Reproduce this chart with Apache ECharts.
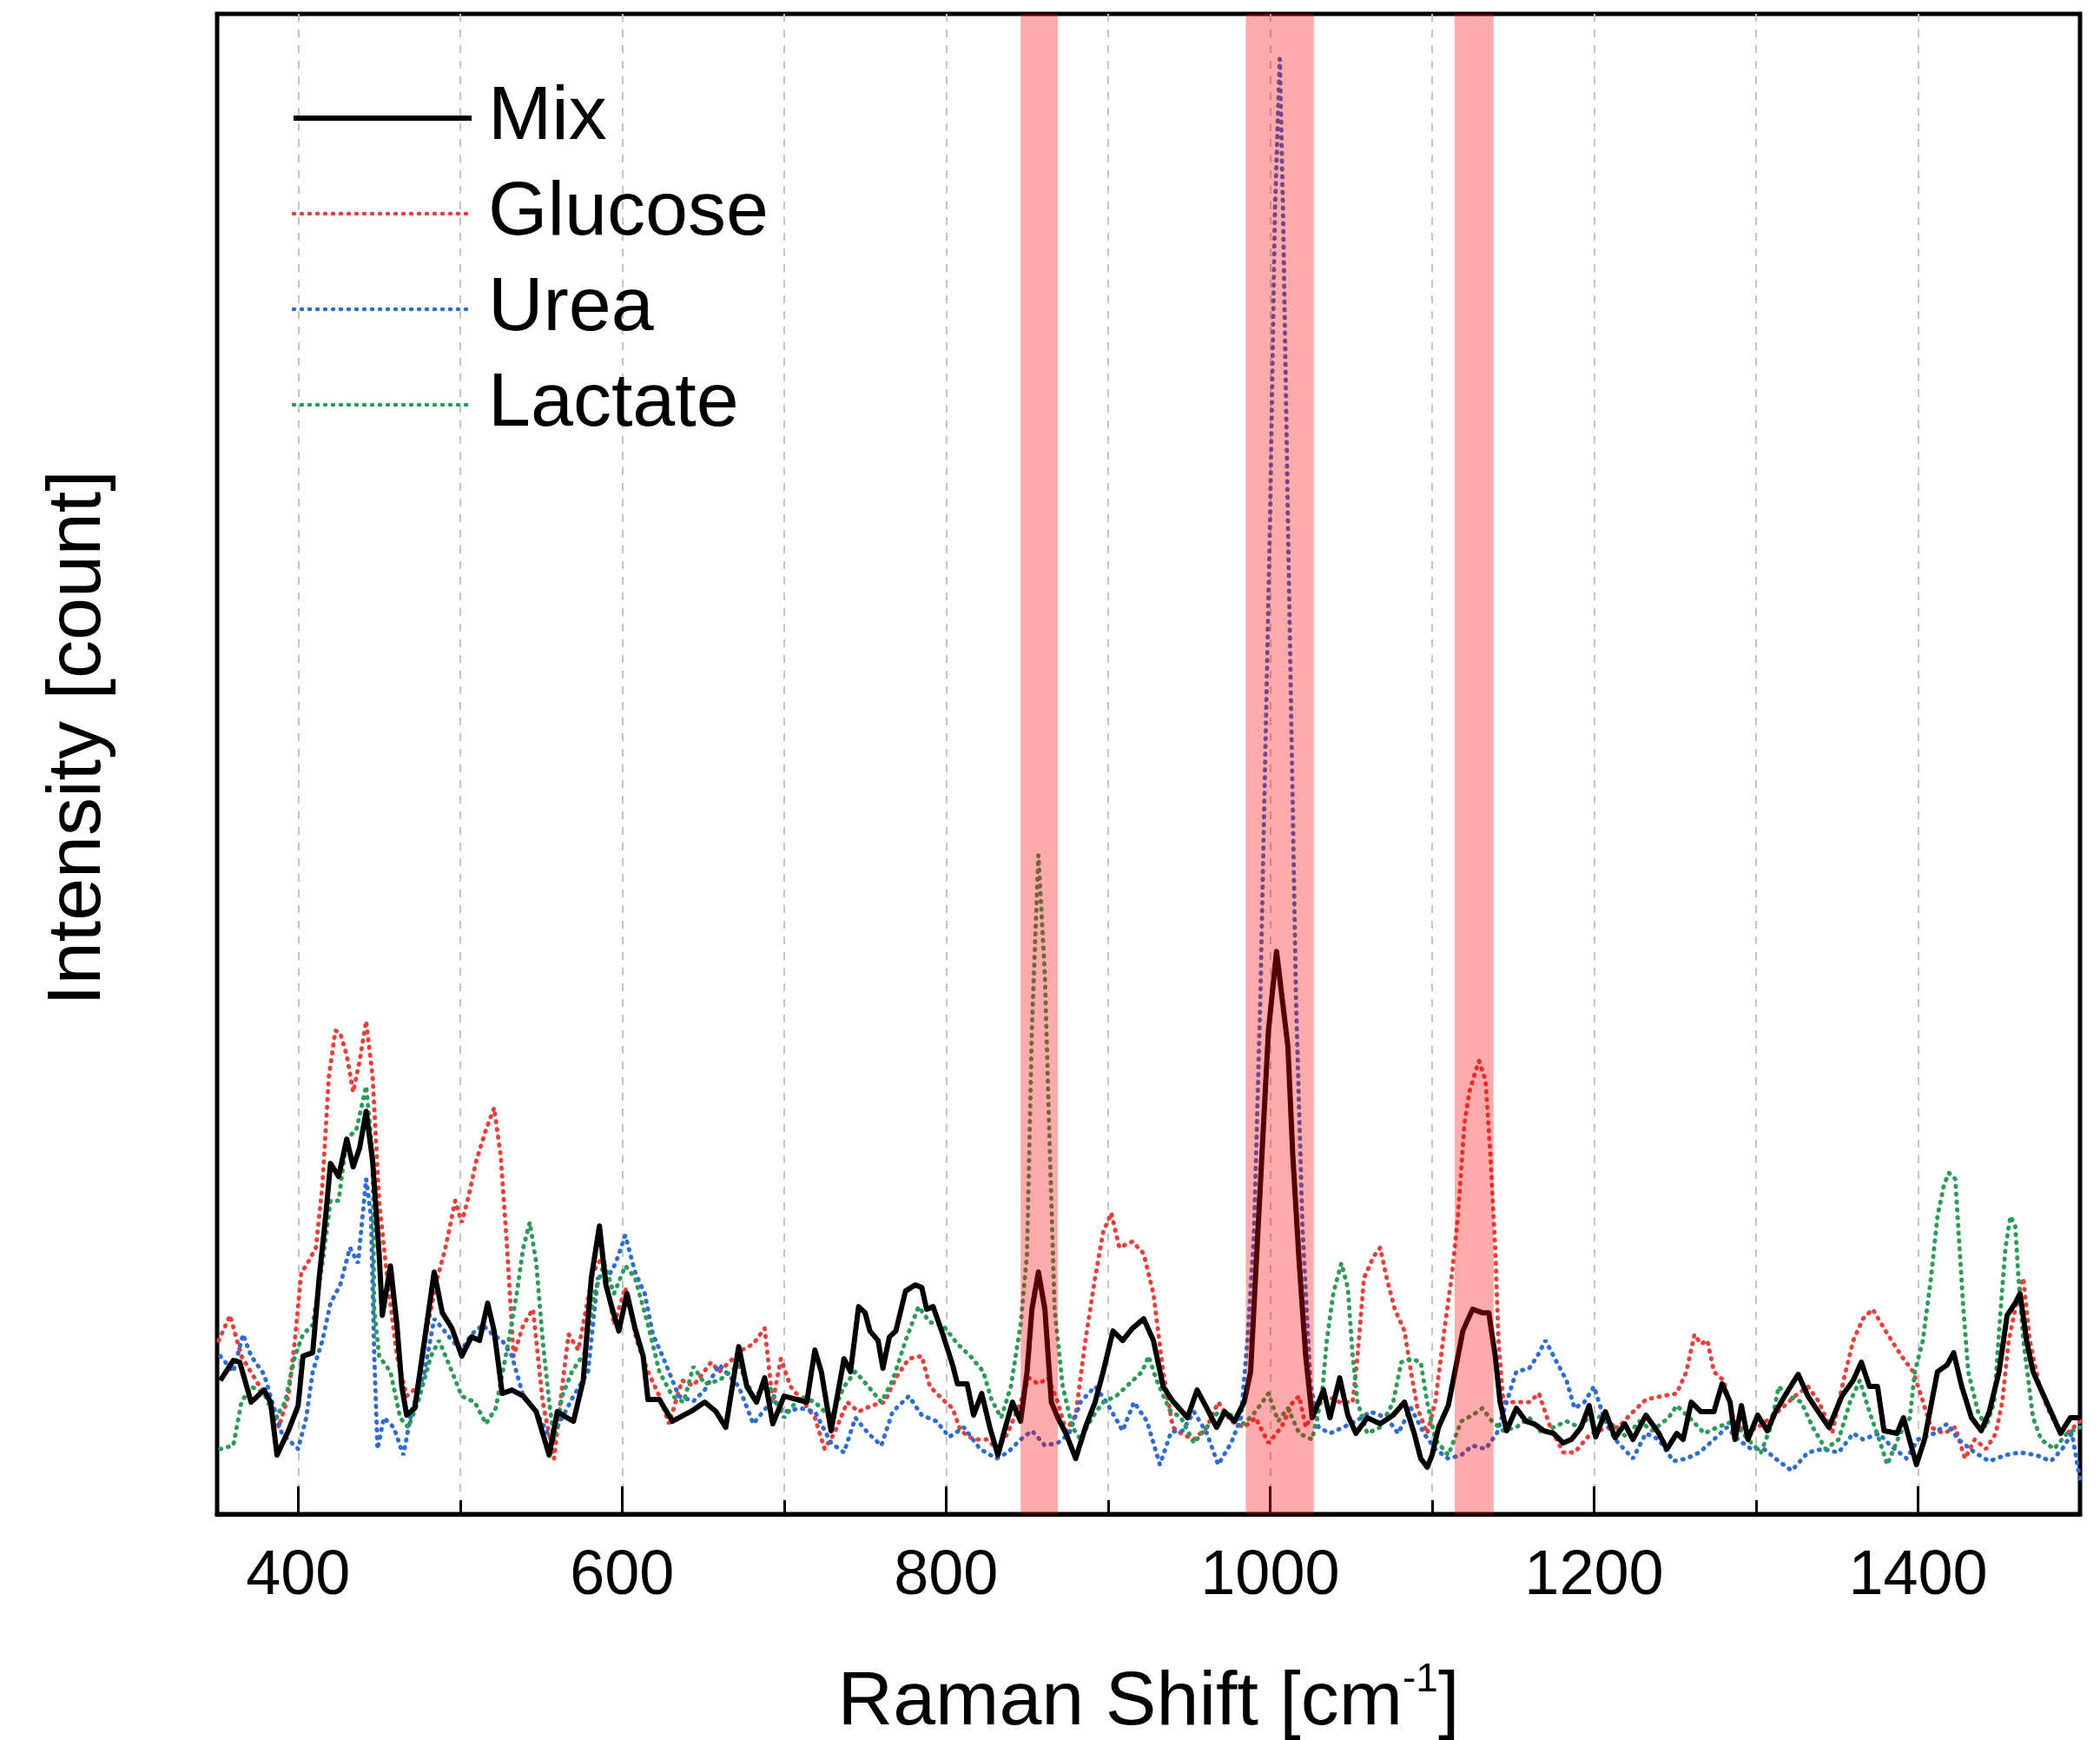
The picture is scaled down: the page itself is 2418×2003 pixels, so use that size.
<!DOCTYPE html>
<html>
<head>
<meta charset="utf-8">
<script src="https://cdn.jsdelivr.net/npm/echarts@6/dist/echarts.min.js"></script>
<style>
html,body{margin:0;padding:0;background:#fff;}
#chart{width:2418px;height:2003px;}
</style>
</head>
<body>
<div id="chart"></div>
<script>
// Raman shift [cm-1] vs intensity (arbitrary counts)
const mix = [[352,154],[360,177],[364,175],[371,129],[379,143],[383,129],[387,68],[394,96],[400,125],[403,182],[409,186],[413,272],[417,343],[420,404],[425,389],[430,432],[434,400],[438,422],[442,464],[446,407],[450,300],[452,229],[457,286],[461,218],[464,147],[467,114],[472,122],[478,200],[484,279],[489,232],[495,214],[501,182],[507,204],[512,200],[517,243],[521,211],[526,139],[532,143],[539,136],[547,118],[555,68],[560,118],[566,111],[570,107],[576,154],[581,272],[586,332],[590,264],[594,236],[598,211],[603,254],[608,214],[613,182],[616,132],[623,132],[631,107],[638,114],[644,120],[651,129],[658,118],[664,100],[672,193],[677,147],[683,129],[688,157],[693,104],[700,136],[708,132],[714,129],[719,189],[723,164],[729,96],[737,179],[741,164],[746,239],[750,232],[753,211],[758,200],[761,168],[765,204],[769,211],[775,257],[781,264],[785,261],[788,236],[792,239],[798,207],[804,172],[807,150],[813,150],[817,114],[822,139],[827,100],[832,68],[836,96],[841,129],[846,107],[850,164],[853,236],[857,279],[861,236],[865,129],[869,111],[874,93],[880,64],[886,100],[892,129],[897,164],[903,211],[909,200],[915,214],[922,225],[928,200],[934,147],[940,130],[949,111],[955,143],[961,122],[967,100],[972,118],[978,107],[984,129],[988,164],[991,272],[995,414],[999,557],[1004,648],[1011,539],[1014,414],[1018,289],[1022,182],[1026,111],[1030,129],[1033,143],[1037,111],[1043,157],[1048,114],[1053,93],[1060,111],[1068,104],[1076,114],[1083,129],[1089,93],[1093,64],[1097,54],[1100,68],[1104,100],[1110,125],[1116,182],[1119,211],[1125,236],[1131,232],[1135,232],[1139,182],[1142,129],[1146,96],[1152,122],[1158,107],[1163,104],[1169,96],[1175,93],[1181,82],[1186,86],[1192,100],[1197,125],[1201,89],[1207,118],[1213,88],[1219,104],[1224,86],[1232,114],[1240,93],[1245,75],[1251,93],[1255,86],[1260,129],[1266,118],[1274,118],[1279,150],[1284,129],[1287,86],[1291,125],[1295,86],[1301,114],[1307,96],[1312,118],[1320,143],[1326,161],[1332,136],[1337,122],[1345,100],[1353,136],[1360,154],[1365,175],[1370,147],[1375,147],[1379,96],[1387,93],[1391,111],[1399,57],[1404,86],[1412,164],[1418,172],[1422,186],[1427,147],[1433,111],[1439,96],[1444,118],[1450,164],[1455,229],[1460,243],[1463,254],[1467,200],[1471,164],[1476,143],[1482,118],[1488,93],[1494,111],[1500,111]];

const glucose = [[351,200],[358,229],[365,182],[373,157],[380,136],[388,100],[394,136],[398,200],[402,279],[405,286],[411,307],[415,379],[419,504],[423,557],[426,554],[430,529],[434,486],[438,522],[442,568],[446,504],[450,361],[455,272],[461,182],[467,136],[474,147],[480,218],[486,272],[491,307],[497,361],[501,336],[505,364],[510,407],[516,443],[521,468],[525,414],[529,307],[533,182],[539,218],[545,236],[551,129],[558,64],[563,147],[567,207],[573,189],[582,279],[588,297],[595,218],[602,261],[609,200],[616,164],[623,136],[629,104],[637,154],[644,148],[655,175],[660,164],[674,189],[681,196],[688,214],[693,129],[698,179],[704,147],[712,129],[719,111],[725,75],[731,93],[739,129],[746,118],[754,125],[762,129],[769,157],[777,179],[785,182],[790,147],[798,132],[804,122],[809,96],[817,86],[825,86],[832,75],[838,93],[846,129],[851,157],[857,150],[863,157],[869,129],[874,96],[880,114],[886,200],[892,272],[897,325],[902,347],[907,307],[915,314],[922,300],[928,254],[934,164],[940,100],[945,93],[953,86],[961,100],[968,129],[976,107],[984,100],[991,111],[999,82],[1007,100],[1014,129],[1018,136],[1022,100],[1028,122],[1035,136],[1043,129],[1051,129],[1054,182],[1058,272],[1064,297],[1068,307],[1072,272],[1077,236],[1083,211],[1087,164],[1091,122],[1097,93],[1102,129],[1108,218],[1112,272],[1116,343],[1120,450],[1123,486],[1127,511],[1129,522],[1133,500],[1136,414],[1139,307],[1141,200],[1144,129],[1152,129],[1160,129],[1166,139],[1173,100],[1181,71],[1188,71],[1198,93],[1209,100],[1215,100],[1222,114],[1232,132],[1242,136],[1251,139],[1257,164],[1262,207],[1266,196],[1270,200],[1274,164],[1280,154],[1286,111],[1293,93],[1301,100],[1309,111],[1316,122],[1324,136],[1332,147],[1339,129],[1347,93],[1354,154],[1360,200],[1366,225],[1372,236],[1379,214],[1385,196],[1391,179],[1397,164],[1402,136],[1408,100],[1416,93],[1423,100],[1429,64],[1435,86],[1442,75],[1448,93],[1452,129],[1456,200],[1462,254],[1465,272],[1469,200],[1475,147],[1480,122],[1486,100],[1492,93],[1500,107]];

const urea = [[352,182],[360,164],[366,207],[371,182],[379,161],[384,129],[390,93],[400,75],[405,111],[409,164],[415,200],[420,243],[426,264],[432,307],[437,289],[442,386],[445,343],[447,182],[449,75],[453,111],[459,100],[465,68],[470,118],[478,164],[484,225],[489,214],[495,200],[501,189],[507,207],[514,218],[520,207],[526,200],[532,182],[539,136],[547,118],[556,86],[563,111],[570,136],[579,164],[585,272],[591,272],[596,289],[602,321],[608,279],[614,254],[619,207],[625,182],[635,136],[644,130],[651,143],[660,172],[672,147],[681,104],[693,132],[700,118],[710,122],[719,118],[729,82],[737,71],[744,111],[752,93],[760,79],[767,118],[777,136],[785,114],[794,107],[802,89],[811,100],[821,75],[831,64],[838,71],[846,86],[853,96],[861,79],[869,82],[876,93],[883,129],[892,147],[899,129],[909,96],[916,129],[924,107],[932,57],[939,95],[946,96],[953,118],[961,93],[968,57],[976,82],[982,111],[986,200],[990,320],[994,593],[1000,1145],[1003,1500],[1006,1676],[1008,1500],[1011,1145],[1016,593],[1020,330],[1025,150],[1030,100],[1037,93],[1045,100],[1053,107],[1062,118],[1072,111],[1079,93],[1087,122],[1095,93],[1102,75],[1110,64],[1118,68],[1125,79],[1133,75],[1140,93],[1146,129],[1152,164],[1160,168],[1165,182],[1170,200],[1177,175],[1183,154],[1188,122],[1194,129],[1200,147],[1206,111],[1213,86],[1224,64],[1232,93],[1240,86],[1249,61],[1257,64],[1265,71],[1274,86],[1282,100],[1289,86],[1297,75],[1305,75],[1312,64],[1322,50],[1332,71],[1341,75],[1351,71],[1360,93],[1366,86],[1376,93],[1383,79],[1393,64],[1400,86],[1410,93],[1418,104],[1425,86],[1435,71],[1444,61],[1454,68],[1463,71],[1473,68],[1482,61],[1489,75],[1495,93],[1500,39]];

const lactate = [[352,75],[360,79],[365,129],[371,147],[379,139],[386,111],[392,129],[398,182],[403,207],[409,218],[415,289],[420,361],[425,361],[430,432],[436,443],[442,493],[446,414],[447,236],[450,182],[457,164],[463,111],[468,100],[474,129],[482,182],[487,200],[495,164],[501,136],[509,129],[516,104],[522,122],[530,200],[535,254],[539,307],[543,336],[547,289],[551,200],[555,129],[558,86],[563,136],[569,164],[577,186],[583,254],[589,289],[595,254],[602,286],[608,272],[616,218],[623,164],[631,136],[638,129],[644,170],[651,150],[660,154],[672,172],[681,136],[691,147],[700,111],[710,136],[719,129],[729,111],[737,147],[744,164],[752,147],[760,129],[767,154],[775,200],[783,239],[790,221],[798,218],[807,196],[815,182],[823,164],[828,132],[834,111],[840,147],[846,218],[850,300],[853,560],[857,759],[861,620],[864,420],[867,236],[872,147],[878,100],[883,86],[890,111],[897,129],[905,136],[913,150],[921,164],[925,182],[930,154],[938,120],[945,111],[953,82],[961,100],[968,118],[976,114],[984,104],[991,118],[999,139],[1005,107],[1011,122],[1018,93],[1026,86],[1032,136],[1035,200],[1039,254],[1044,289],[1048,261],[1051,182],[1054,129],[1060,93],[1068,100],[1076,129],[1081,175],[1087,179],[1093,175],[1097,129],[1102,86],[1110,68],[1118,107],[1125,114],[1131,122],[1137,107],[1144,96],[1152,100],[1160,111],[1168,93],[1175,100],[1183,107],[1191,100],[1198,114],[1206,111],[1213,100],[1220,89],[1228,107],[1236,96],[1246,111],[1251,125],[1259,111],[1268,93],[1276,100],[1286,107],[1295,86],[1303,71],[1309,100],[1314,147],[1320,136],[1328,129],[1335,100],[1343,75],[1351,86],[1358,129],[1364,154],[1370,118],[1376,86],[1381,57],[1389,93],[1395,111],[1398,164],[1403,200],[1408,272],[1412,343],[1416,379],[1419,393],[1423,386],[1425,325],[1428,236],[1431,164],[1437,118],[1442,100],[1447,129],[1451,236],[1454,307],[1457,343],[1460,332],[1462,272],[1465,200],[1471,111],[1476,86],[1484,75],[1492,93],[1500,100]];

// highlighted Raman bands [start, end] in cm-1
const bands = [[846, 869], [985, 1027], [1114, 1138]];

// axis ticks
const gridTicks = [400, 500, 600, 700, 800, 900, 1000, 1100, 1200, 1300, 1400];
const labelTicks = [400, 600, 800, 1000, 1200, 1400];

const FONT = 'Liberation Sans, Arial, sans-serif';
const COLORS = {Mix: '#000000', Glucose: '#e8403c', Urea: '#2f6cd0', Lactate: '#2c9a58'};
const DOT = [1, 8];
const chart = echarts.init(document.getElementById('chart'), null, {renderer: 'canvas'});

const dotted = (color) => ({color: color, width: 5, type: DOT, cap: 'round'});

chart.setOption({
  animation: false,
  backgroundColor: '#ffffff',
  grid: {left: 250, right: 23, top: 16, bottom: 260, show: true, borderColor: '#000', borderWidth: 5,
         backgroundColor: '#fff', containLabel: false, outerBoundsMode: 'none'},
  legend: {
    data: [
      {name: 'Mix', itemStyle: {opacity: 0}, lineStyle: {color: COLORS.Mix, width: 6, type: 'solid'}},
      {name: 'Glucose', itemStyle: {opacity: 0}, lineStyle: {color: COLORS.Glucose, width: 4.5, type: DOT, cap: 'round'}},
      {name: 'Urea', itemStyle: {opacity: 0}, lineStyle: {color: COLORS.Urea, width: 4.5, type: DOT, cap: 'round'}},
      {name: 'Lactate', itemStyle: {opacity: 0}, lineStyle: {color: COLORS.Lactate, width: 4.5, type: DOT, cap: 'round'}}
    ],
    orient: 'vertical', left: 330, top: 87,
    itemWidth: 205, itemHeight: 88, itemGap: 22,
    textStyle: {fontSize: 88, fontFamily: FONT, color: '#000', padding: [0, 0, 0, 14]},
    selectedMode: false
  },
  xAxis: [{
    type: 'value', min: 350, max: 1500,
    axisLine: {show: true, onZero: false, lineStyle: {color: '#000', width: 5}},
    axisTick: {show: true, inside: true, length: 16, lineStyle: {color: '#000', width: 3}, customValues: gridTicks},
    axisLabel: {show: true, customValues: labelTicks, fontSize: 72, fontFamily: FONT, color: '#000', margin: 36,
                formatter: function (v) { return String(v); }},
    splitLine: {show: true, lineStyle: {color: '#c4c4c4', width: 2, type: [9, 9]}},
    name: '{t|Raman Shift [cm}{s|-1}{t|]}',
    nameLocation: 'middle', nameGap: 168,
    nameTextStyle: {rich: {
      t: {fontSize: 88, fontFamily: FONT, color: '#000', lineHeight: 100},
      s: {fontSize: 46, fontFamily: FONT, color: '#000', verticalAlign: 'top', lineHeight: 100, padding: [0, 0, 34, 0]}
    }}
  }, {
    type: 'value', min: 350, max: 1500, position: 'bottom', gridIndex: 0,
    axisLine: {show: false},
    axisTick: {show: true, inside: true, length: 32, lineStyle: {color: '#000', width: 3}, customValues: labelTicks},
    axisLabel: {show: false},
    splitLine: {show: false}
  }],
  yAxis: {
    type: 'value', min: 0, max: 1728,
    axisLine: {show: false}, axisTick: {show: false}, axisLabel: {show: false}, splitLine: {show: false},
    name: 'Intensity [count]', nameLocation: 'middle', nameGap: 115,
    nameTextStyle: {fontSize: 88, fontFamily: FONT, color: '#000', padding: [0, 0, 0, 60]}
  },
  series: [
    {name: 'Glucose', type: 'line', data: glucose, symbol: 'none', lineStyle: dotted(COLORS.Glucose), itemStyle: {color: COLORS.Glucose}, z: 2},
    {name: 'Urea', type: 'line', data: urea, symbol: 'none', lineStyle: dotted(COLORS.Urea), itemStyle: {color: COLORS.Urea}, z: 2},
    {name: 'Lactate', type: 'line', data: lactate, symbol: 'none', lineStyle: dotted(COLORS.Lactate), itemStyle: {color: COLORS.Lactate}, z: 2},
    {name: 'Mix', type: 'line', data: mix, symbol: 'none', lineStyle: {color: COLORS.Mix, width: 6, join: 'round'}, itemStyle: {color: COLORS.Mix}, z: 3},
    {
      name: 'bands', type: 'custom', z: 10, silent: true,
      data: bands,
      encode: {x: [0, 1]},
      renderItem: function (params, api) {
        const p0 = api.coord([api.value(0), 0]);
        const p1 = api.coord([api.value(1), 0]);
        const cs = params.coordSys;
        return {type: 'rect', shape: {x: p0[0], y: cs.y, width: p1[0] - p0[0], height: cs.height},
                style: {fill: 'rgba(255,0,0,0.33)'}};
      }
    }
  ]
});
</script>
</body>
</html>
